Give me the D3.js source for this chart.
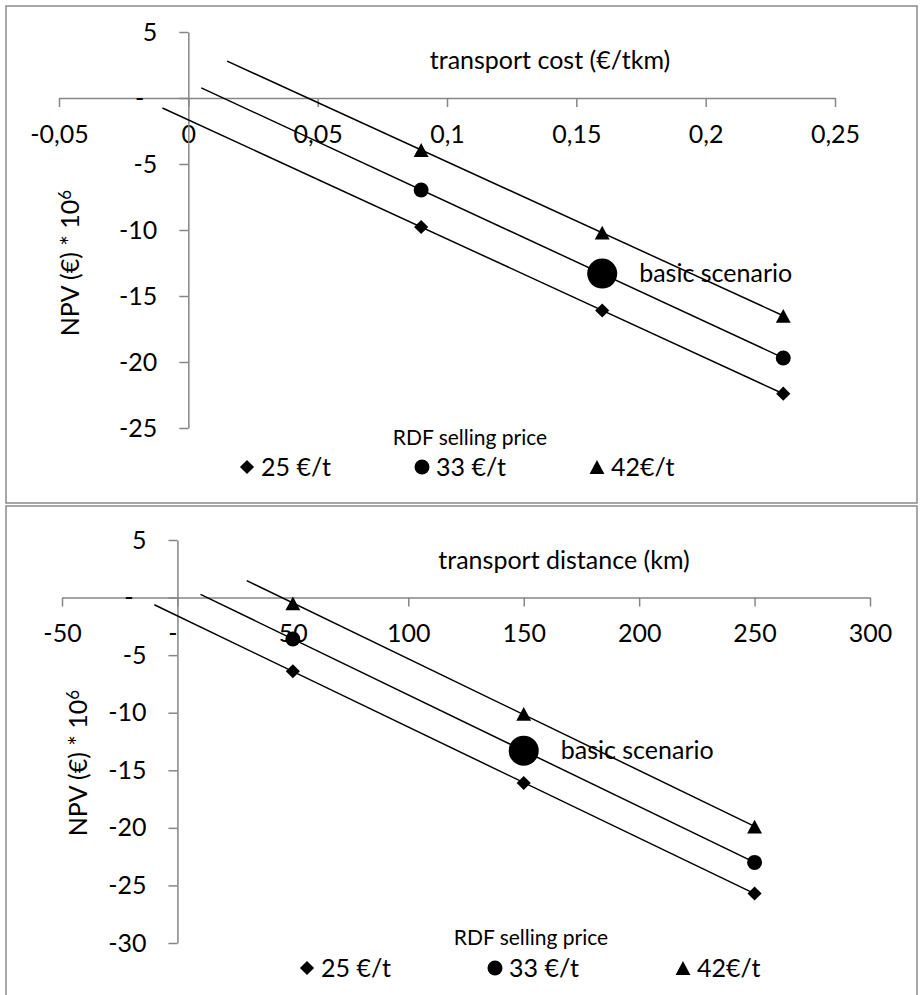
<!DOCTYPE html>
<html>
<head>
<meta charset="utf-8">
<script src="https://cdn.jsdelivr.net/npm/d3@7/dist/d3.min.js"></script>
<style>
  body { margin: 0; background: #fff; }
  text { font-family: Lato, "Open Sans", sans-serif; fill: #000; }
</style>
</head>
<body>
<svg id="chart" width="922" height="995"></svg>
<script>
// series names (RDF selling price)
const prices = ["25 €/t", "33 €/t", "42€/t"];

// top chart: NPV vs transport cost
const costX = [0.09, 0.16, 0.23];
const cost25 = [-9.77, -16.1, -22.4];
const cost33 = [-6.97, -13.3, -19.7];
const cost42 = [-3.94, -10.2, -16.5];
const costTrendStart = [-0.01, 0.005, 0.015];   // where each trendline begins
const costBasic = [0.16, -13.3];
const costXTicks = [-0.05, 0, 0.05, 0.1, 0.15, 0.2, 0.25];
const costYTicks = [5, 0, -5, -10, -15, -20, -25];

// bottom chart: NPV vs transport distance
const distX = [50, 150, 250];
const dist25 = [-6.4, -16.1, -25.7];
const dist33 = [-3.6, -13.3, -23.0];
const dist42 = [-0.5, -10.1, -19.9];
const distTrendStart = [-10, 10, 30];
const distBasic = [150, -13.3];
const distXTicks = [-50, 0, 50, 100, 150, 200, 250, 300];
const distYTicks = [5, 0, -5, -10, -15, -20, -25, -30];

const svg = d3.select("#chart");
const FS = 25;

// marker shapes like the excel ones
const triangleBox = {
  draw(ctx, size) {
    const h = Math.sqrt(size) / 2;
    ctx.moveTo(0, -h);
    ctx.lineTo(h * 1.08, h);
    ctx.lineTo(-h * 1.08, h);
    ctx.closePath();
  }
};
const diamondSq = {
  draw(ctx, size) {
    const h = Math.sqrt(size) / 2;
    ctx.moveTo(0, -h);
    ctx.lineTo(h, 0);
    ctx.lineTo(0, h);
    ctx.lineTo(-h, 0);
    ctx.closePath();
  }
};
const markers = [
  d3.symbol(diamondSq, 200),
  d3.symbol(d3.symbolCircle, 177),
  d3.symbol(triangleBox, 190)
];

function linFit(xs, ys) {
  const mx = d3.mean(xs), my = d3.mean(ys);
  const b = d3.sum(xs, (x, i) => (x - mx) * (ys[i] - my)) / d3.sum(xs, x => (x - mx) ** 2);
  return x => my + b * (x - mx);
}

function drawChart(o) {
  const g = svg.append("g");

  g.append("rect")
      .attr("x", o.box[0]).attr("y", o.box[1])
      .attr("width", o.box[2]).attr("height", o.box[3])
      .attr("fill", "none")
      .attr("stroke", "#8a8a8a")
      .attr("stroke-width", 1.5);

  const x = d3.scaleLinear().domain(d3.extent(o.xTicks)).range(o.xRange);
  const y = d3.scaleLinear().domain([d3.max(o.yTicks), d3.min(o.yTicks)]).range(o.yRange);

  const xAxis = g.append("g")
      .attr("transform", `translate(0,${y(0)})`)
      .call(d3.axisBottom(x).tickValues(o.xTicks).tickSize(9).tickSizeOuter(0).tickFormat(o.xFmt));
  xAxis.selectAll("text")
      .attr("y", 36).attr("dy", "0.35em")
      .attr("dx", d => d === 0 ? o.xZeroDx : 0);

  const yAxis = g.append("g")
      .attr("transform", `translate(${x(0)},0)`)
      .call(d3.axisLeft(y).tickValues(o.yTicks).tickSize(9).tickSizeOuter(0).tickPadding(22)
          .tickFormat(d => d === 0 ? "-" : d));
  yAxis.selectAll("text").attr("dx", d => d === 0 ? -13 : 0);

  g.selectAll(".domain, .tick line").attr("stroke", "#868686").attr("stroke-width", 1.5);
  g.selectAll(".tick text").style("font-size", FS + "px").style("font-family", "Lato");

  // axis titles
  g.append("text")
      .attr("x", o.title[0]).attr("y", o.title[1])
      .attr("dy", "0.35em").attr("text-anchor", "middle")
      .style("font-size", FS + "px")
      .text(o.xTitle);

  const yt = g.append("text")
      .attr("transform", `translate(${o.yTitle[0]},${o.yTitle[1]}) rotate(-90)`)
      .attr("dy", "0.35em").attr("text-anchor", "middle")
      .style("font-size", FS + "px");
  yt.append("tspan").text("NPV (€) * 10");
  yt.append("tspan").attr("dy", "-0.45em").style("font-size", "17px").text("6");

  // trendlines + points
  o.series.forEach((ys, i) => {
    const f = linFit(o.xs, ys);
    const x0 = o.trendStart[i], x1 = d3.max(o.xs);
    g.append("line")
        .attr("x1", x(x0)).attr("y1", y(f(x0)))
        .attr("x2", x(x1)).attr("y2", y(f(x1)))
        .attr("stroke", "#000").attr("stroke-width", 1.5);

    g.selectAll(null)
        .data(ys.map((v, j) => [o.xs[j], v]))
        .join("path")
        .attr("d", markers[i])
        .attr("transform", d => `translate(${x(d[0])},${y(d[1])})`)
        .attr("fill", "#000");
  });

  g.append("circle")
      .attr("cx", x(o.basic[0])).attr("cy", y(o.basic[1]))
      .attr("r", 15).attr("fill", "#000");
  g.append("text")
      .attr("x", x(o.basic[0]) + 37).attr("y", y(o.basic[1]))
      .attr("dy", "0.35em")
      .style("font-size", FS + "px")
      .text("basic scenario");

  // legend
  g.append("text")
      .attr("x", o.legTitle[0]).attr("y", o.legTitle[1])
      .attr("dy", "0.35em").attr("text-anchor", "middle")
      .style("font-size", "21px")
      .text("RDF selling price");
  prices.forEach((p, i) => {
    const lx = o.legX[i];
    g.append("path")
        .attr("d", markers[i])
        .attr("transform", `translate(${lx},${o.legY})`)
        .attr("fill", "#000");
    g.append("text")
        .attr("x", lx + 14).attr("y", o.legY)
        .attr("dy", "0.35em")
        .style("font-size", FS + "px")
        .text(p);
  });
}

drawChart({
  box: [6, 6, 911, 497],
  xTicks: costXTicks, yTicks: costYTicks,
  xRange: [59, 835], yRange: [32, 428],
  xFmt: d => String(d).replace(".", ","), xZeroDx: 0,
  xs: costX, series: [cost25, cost33, cost42], trendStart: costTrendStart,
  basic: costBasic,
  xTitle: "transport cost (€/tkm)", title: [550, 60],
  yTitle: [70, 263],
  legTitle: [470, 438], legY: 467, legX: [247, 422, 597]
});

drawChart({
  box: [6, 506, 911, 495],
  xTicks: distXTicks, yTicks: distYTicks,
  xRange: [62, 870], yRange: [540, 943],
  xFmt: d => d === 0 ? "-" : d, xZeroDx: -5,
  xs: distX, series: [dist25, dist33, dist42], trendStart: distTrendStart,
  basic: distBasic,
  xTitle: "transport distance (km)", title: [564, 560],
  yTitle: [78, 763],
  legTitle: [531, 938], legY: 968, legX: [307, 495, 683]
});
</script>
</body>
</html>
